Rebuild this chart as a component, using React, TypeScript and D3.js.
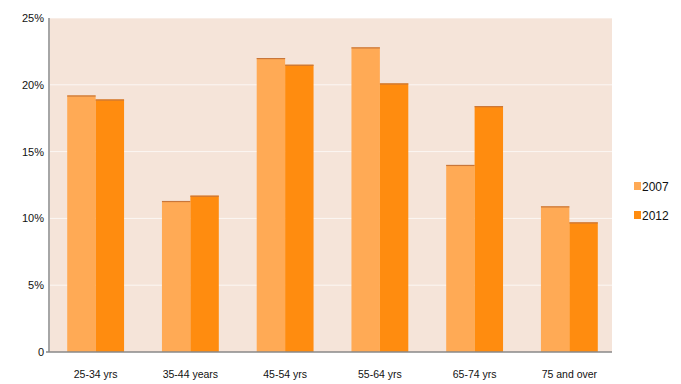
import React from "react";
import * as d3 from "d3";

const categories = ["25-34 yrs", "35-44 years", "45-54 yrs", "55-64 yrs", "65-74 yrs", "75 and over"];
const series2007 = [19.2, 11.3, 22.0, 22.8, 14.0, 10.9];
const series2012 = [18.9, 11.7, 21.5, 20.1, 18.4, 9.7];
const seriesNames = ["2007", "2012"];
const yTicks = [0, 5, 10, 15, 20, 25];

const W = 681, H = 384;
const M = { left: 50, right: 69, top: 18, bottom: 32 };
const colors = ["#ffaa55", "#ff8c0f"];

export default function App() {
  const x0 = d3.scaleBand().domain(categories).range([M.left + 3, W - M.right]).paddingInner(0.4).paddingOuter(0.15);
  const x1 = d3.scaleBand().domain(seriesNames).range([0, x0.bandwidth()]);
  const y = d3.scaleLinear().domain([0, 25]).range([H - M.bottom, M.top]);
  const data = [series2007, series2012];
  return (
    <svg width={W} height={H} style={{ position: "absolute", left: 0, top: 0, fontFamily: "Arial, 'Liberation Sans', sans-serif" }}>
      <rect x={M.left} y={M.top} width={W - M.right - M.left} height={y(0) - M.top} fill="#f5e4d9" />
      {yTicks.slice(1).map(t => (
        <line key={t} x1={M.left} x2={W - M.right} y1={y(t)} y2={y(t)} stroke="#ffffff" strokeOpacity={0.7} />
      ))}
      {categories.map((c, i) => (
        <g key={c}>
          {seriesNames.map((s, j) => {
            const v = data[j][i];
            const bx = (x0(c) as number) + (x1(s) as number);
            return (
              <g key={s}>
                <rect x={bx} y={y(v)} width={x1.bandwidth()} height={y(0) - y(v)} fill={colors[j]} />
                <line x1={bx} x2={bx + x1.bandwidth()} y1={y(v) + 0.5} y2={y(v) + 0.5} stroke="#c8763a" strokeWidth={1.2} />
              </g>
            );
          })}
          <text x={(x0(c) as number) + x0.bandwidth() / 2} y={H - 6} textAnchor="middle" fontSize={10.5} fill="#111">{c}</text>
        </g>
      ))}
      <line x1={M.left - 1} x2={M.left - 1} y1={M.top} y2={y(0)} stroke="#888" strokeWidth={1.5} />
      <line x1={M.left - 4} x2={W - M.right} y1={y(0)} y2={y(0)} stroke="#888" strokeWidth={1.5} />
      {yTicks.map(t => (
        <text key={t} x={M.left - 6} y={y(t) + 4} textAnchor="end" fontSize={11} fill="#111">{t === 0 ? "0" : `${t}%`}</text>
      ))}
      {seriesNames.map((s, j) => (
        <g key={s}>
          <rect x={634} y={182 + j * 29} width={7} height={8} fill={colors[j]} />
          <text x={642} y={191 + j * 29} fontSize={12} fill="#111">{s}</text>
        </g>
      ))}
    </svg>
  );
}
